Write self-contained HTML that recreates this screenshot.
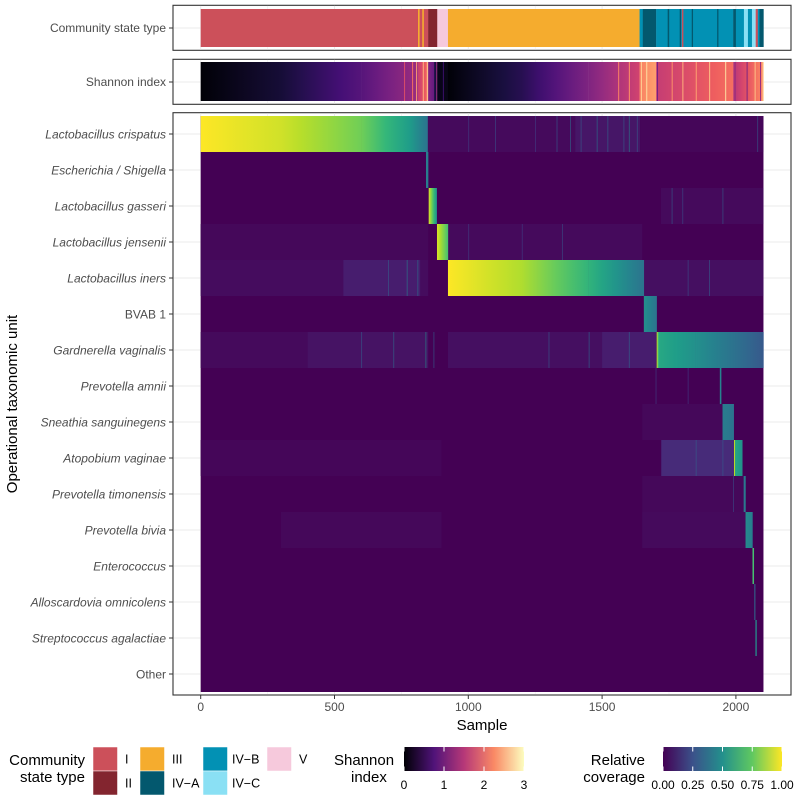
<!DOCTYPE html>
<html><head><meta charset="utf-8">
<style>
html,body{margin:0;padding:0;background:#fff;}
svg{display:block;font-family:"Liberation Sans",Arial,sans-serif;}
</style></head>
<body>
<svg id="chart" width="800" height="801" viewBox="0 0 800 801" xmlns="http://www.w3.org/2000/svg">
<defs id="defs"></defs>
<rect width="800" height="801" fill="#fff"/>
<g id="panels"></g>
<g id="marks"></g>
<g id="axes"></g>
<g id="legend"></g>
</svg>
<script>
// ---------- data ----------
const otuNames = ["Lactobacillus crispatus","Escherichia / Shigella","Lactobacillus gasseri","Lactobacillus jensenii","Lactobacillus iners","BVAB 1","Gardnerella vaginalis","Prevotella amnii","Sneathia sanguinegens","Atopobium vaginae","Prevotella timonensis","Prevotella bivia","Enterococcus","Alloscardovia omnicolens","Streptococcus agalactiae","Other"];
const otuItalic = [1,1,1,1,1,0,1,1,1,1,1,1,1,1,1,0];
const xTicks = [0,500,1000,1500,2000];
const nSamples = 2103;
const cstTypes = ["I","II","III","IV\u2212A","IV\u2212B","IV\u2212C","V"];
const cstColors = ["#cc505a","#83252f","#f5ac2e","#03586e","#0291b4","#8ae0f4","#f6c9dc"];
// CST segments: [start, end, typeIndex]
const cstSegments = [[0,812,0],[812,818,2],[818,828,0],[828,834,2],[834,850,0],[850,884,1],[884,924,6],[924,1640,2],[1640,1652,4],[1652,1702,3],[1702,1990,4],[1745,1750,3],[1790,1794,3],[1798,1803,0],[1835,1839,3],[1930,1934,3],[1990,2000,3],[2000,2030,4],[2030,2045,5],[2045,2060,4],[2060,2068,5],[2068,2074,5],[2074,2082,0],[2082,2088,4],[2088,2103,3]];
// Shannon gradient segments: [start, end, vStart, vEnd]
const shannonSegments = [[0,300,0.02,0.3],[300,600,0.3,0.8],[600,812,0.8,1.3],[812,850,1.6,2.1],[850,872,1.1,0.9],[872,884,0.4,0.3],[884,924,0.12,0.1],[924,1200,0.02,0.45],[1200,1450,0.45,1.1],[1450,1640,1.1,1.7],[1640,1702,2.2,2.4],[1702,1990,1.6,2.1],[1990,2103,1.5,2.3]];
// Shannon streaks: [sample, value]
const shannonStreaks = [[760,1.8],[790,2.1],[805,2.4],[830,2.5],[845,2.7],[880,1.3],[905,0.6],[1560,2.2],[1600,2.3],[1645,2.7],[1665,2.8],[1705,1.0],[1760,2.3],[1800,2.5],[1850,2.4],[1900,2.6],[1960,2.8],[1995,1.2],[2040,1.1],[2070,2.6],[2090,1.3],[2100,2.8]];
// Main coverage gradient blocks: [row, start, end, vStart, vEnd]
const coverageBlocks = [[0,0,300,1.0,0.93],[0,300,600,0.93,0.78],[0,600,780,0.78,0.55],[0,780,848,0.55,0.38],[1,842,850,0.45,0.4],[2,852,882,0.95,0.5],[3,883,924,0.95,0.7],[4,924,1200,1.0,0.88],[4,1200,1450,0.88,0.65],[4,1450,1656,0.65,0.38],[5,1656,1704,0.5,0.38],[6,1704,1712,0.95,0.6],[6,1712,1850,0.6,0.5],[6,1850,2103,0.5,0.28],[7,1940,1945,0.45,0.45],[8,1950,1992,0.42,0.38],[9,1993,1997,0.9,0.9],[9,1997,2024,0.6,0.5],[10,2029,2036,0.4,0.4],[11,2036,2062,0.48,0.42],[12,2062,2067,0.7,0.7],[13,2069,2072,0.35,0.35],[14,2073,2077,0.5,0.5]];
// Background haze: [row, start, end, value]
const hazeBlocks = [[0,848,1642,0.025],[0,1400,1642,0.06],[0,1642,2103,0.015],[2,1720,2103,0.025],[3,0,850,0.02],[3,924,1650,0.025],[4,0,850,0.03],[4,533,820,0.08],[4,1656,2103,0.04],[6,0,850,0.025],[6,400,850,0.05],[6,924,1700,0.04],[6,1500,1704,0.08],[8,1650,1950,0.02],[9,1721,1993,0.12],[9,0,900,0.015],[10,1650,2030,0.02],[11,1650,2036,0.025],[11,300,900,0.02]];
// Distinct streaks: [row, sample, value]
const streaks = [[0,1000,0.2],[0,1100,0.25],[0,1250,0.2],[0,1330,0.3],[0,1380,0.35],[0,1420,0.3],[0,1480,0.4],[0,1520,0.35],[0,1580,0.3],[0,1600,0.45],[0,1630,0.3],[0,2080,0.3],[2,860,0.4],[2,1760,0.3],[2,1800,0.25],[2,1950,0.3],[3,1000,0.2],[3,1200,0.2],[3,1350,0.25],[4,700,0.3],[4,770,0.45],[4,810,0.4],[4,1820,0.25],[4,1900,0.3],[6,600,0.3],[6,720,0.35],[6,840,0.5],[6,870,0.3],[6,1300,0.3],[6,1450,0.35],[6,1600,0.35],[7,1700,0.2],[7,1820,0.2],[9,1850,0.3],[9,1950,0.3],[10,1990,0.25]];
</script>
<script>
const NS="http://www.w3.org/2000/svg";
const X0=200.7, PX=0.2676, ROW0=116, ROWH=36;
const xScale=s=>X0+s*PX;
const rowY=i=>ROW0+i*ROWH;
const vir=["#440154","#482878","#3e4989","#31688e","#26828e","#1f9e89","#35b779","#6ece58","#b5de2b","#fde725"];
const mag=["#000004","#180f3d","#440f76","#721f81","#9e2f7f","#cd4071","#f1605d","#fd9668","#feca8d","#fcfdbf"];
function hx(h){return [1,3,5].map(i=>parseInt(h.substr(i,2),16));}
function ramp(stops,t){t=Math.max(0,Math.min(1,t));const p=t*(stops.length-1),i=Math.min(Math.floor(p),stops.length-2),f=p-i;const a=hx(stops[i]),b=hx(stops[i+1]);return "rgb("+a.map((v,k)=>Math.round(v+(b[k]-v)*f)).join(",")+")";}
const viridis=v=>ramp(vir,v), magma=v=>ramp(mag,v/3);
function el(tag,attrs,parent){const e=document.createElementNS(NS,tag);for(const k in attrs)e.setAttribute(k,attrs[k]);if(parent)parent.appendChild(e);return e;}
const defs=document.getElementById('defs'),panels=document.getElementById('panels'),marks=document.getElementById('marks'),axes=document.getElementById('axes'),legend=document.getElementById('legend');
let gid=0;
function grad(f,v0,v1){const id="g"+(gid++);const g=el('linearGradient',{id:id,x1:0,x2:1,y1:0,y2:0},defs);for(let k=0;k<=4;k++){el('stop',{offset:k/4,'stop-color':f(v0+(v1-v0)*k/4)},g);}return "url(#"+id+")";}
// panels
const panelDefs=[[5.3,50.3,'cst-panel'],[59.3,104.3,'shannon-panel'],[112.7,695,'otu-panel']];
panelDefs.forEach(p=>{
  const r=el('rect',{x:173,y:p[0],width:618,height:p[1]-p[0],fill:'#fff',stroke:'#333',"stroke-width":1.1},panels);
  
  
  [0,250,500,750,1000,1250,1500,1750,2000,2250].forEach(t=>{const x=xScale(t);if(x<790)el('line',{x1:x,x2:x,y1:p[0]+0.6,y2:p[1]-0.6,stroke:'#ebebeb','stroke-width':t%500?0.5:1},panels);});
});
el('line',{x1:173.6,x2:790,y1:28,y2:28,stroke:'#ebebeb'},panels);
el('line',{x1:173.6,x2:790,y1:82,y2:82,stroke:'#ebebeb'},panels);
otuNames.forEach((n,i)=>el('line',{x1:173.6,x2:790,y1:rowY(i)+18,y2:rowY(i)+18,stroke:'#ebebeb'},panels));
// CST bar
cstSegments.forEach(s=>{
  const r=el('rect',{x:xScale(s[0]),y:9,width:(s[1]-s[0])*PX+0.2,height:38,fill:cstColors[s[2]]},marks);
  
  
});
// Shannon
shannonSegments.forEach(s=>{
  const r=el('rect',{x:xScale(s[0]),y:62,width:(s[1]-s[0])*PX+0.2,height:39,fill:grad(magma,s[2],s[3])},marks);
  
  
});
shannonStreaks.forEach(s=>{
  const r=el('rect',{x:xScale(s[0]),y:62,width:1,height:39,fill:magma(s[1])},marks);
  
  
});
// main heatmap background
const bg=el('rect',{x:xScale(0),y:ROW0,width:nSamples*PX,height:16*ROWH,fill:viridis(0)},marks);


hazeBlocks.forEach(h=>{
  const r=el('rect',{x:xScale(h[1]),y:rowY(h[0]),width:(h[2]-h[1])*PX,height:ROWH,fill:viridis(h[3])},marks);
  
  
});
streaks.forEach(s=>{
  const r=el('rect',{x:xScale(s[1]),y:rowY(s[0]),width:0.8,height:ROWH,fill:viridis(s[2]),opacity:0.7},marks);
  
  
});
coverageBlocks.forEach(b=>{
  const r=el('rect',{x:xScale(b[1]),y:rowY(b[0]),width:Math.max((b[2]-b[1])*PX,0.8)+0.2,height:ROWH,fill:grad(viridis,b[3],b[4])},marks);
  
  
});
// axes
function txt(x,y,s,attrs,parent,name){const t=el('text',Object.assign({x:x,y:y},attrs),parent);t.textContent=s;return t;}
txt(166,32,"Community state type",{'text-anchor':'end','font-size':12,fill:'#4d4d4d'},axes,'cst-panel-label');
el('line',{x1:169,x2:173,y1:28,y2:28,stroke:'#333'},axes);
txt(166,86,"Shannon index",{'text-anchor':'end','font-size':12,fill:'#4d4d4d'},axes,'shannon-panel-label');
el('line',{x1:169,x2:173,y1:82,y2:82,stroke:'#333'},axes);
otuNames.forEach((n,i)=>{
  const y=rowY(i)+18;
  txt(166,y+4.3,n,{'text-anchor':'end','font-size':12,fill:'#4d4d4d','font-style':otuItalic[i]?'italic':'normal'},axes,'y-tick-label');
  el('line',{x1:169,x2:173,y1:y,y2:y,stroke:'#333'},axes);
});
xTicks.forEach(t=>{
  const x=xScale(t);
  el('line',{x1:x,x2:x,y1:695,y2:699,stroke:'#333'},axes);
  txt(x,711,String(t),{'text-anchor':'middle','font-size':12,fill:'#4d4d4d'},axes,'x-tick-label');
});
txt(482,730,"Sample",{'text-anchor':'middle','font-size':15,fill:'#000'},axes,'x-axis-title');
txt(0,0,"Operational taxonomic unit",{'text-anchor':'middle','font-size':15,fill:'#000',transform:'translate(17,404) rotate(-90)'},axes,'y-axis-title');
// legend
txt(85,765,"Community",{'text-anchor':'end','font-size':15},legend,'cst-legend-title');
txt(85,782,"state type",{'text-anchor':'end','font-size':15},legend,'cst-legend-title');
const cstLegendPos=[[93,747,125],[93,771,125],[140,747,172],[140,771,172],[203,747,232],[203,771,232],[267,747,299]];
cstTypes.forEach((c,i)=>{
  const p=cstLegendPos[i];
  const r=el('rect',{x:p[0],y:p[1],width:24.5,height:24,fill:cstColors[i],stroke:'#fff','stroke-width':0.5},legend);
  
  
  txt(p[2],p[1]+16.5,c,{'font-size':12.5},legend,'cst-legend-label');
});
txt(334,765,"Shannon",{'font-size':15},legend,'shannon-legend-title');
txt(351,782,"index",{'font-size':15},legend,'shannon-legend-title');
const sb=el('rect',{x:404,y:747,width:120,height:24,fill:grad(magma,0,3)},legend);


[0,1,2,3].forEach(v=>{const x=404+v*40;el('line',{x1:x,x2:x,y1:747,y2:751.5,stroke:'#fff'},legend);el('line',{x1:x,x2:x,y1:766.5,y2:771,stroke:'#fff'},legend);txt(x,789,String(v),{'text-anchor':'middle','font-size':12},legend,'shannon-legend-tick');});
txt(645,765,"Relative",{'text-anchor':'end','font-size':15},legend,'coverage-legend-title');
txt(645,782,"coverage",{'text-anchor':'end','font-size':15},legend,'coverage-legend-title');
const cb=el('rect',{x:663,y:747,width:119,height:24,fill:grad(viridis,0,1)},legend);


["0.00","0.25","0.50","0.75","1.00"].forEach((l,k)=>{const x=663+k*119/4;el('line',{x1:x,x2:x,y1:747,y2:751.5,stroke:'#fff'},legend);el('line',{x1:x,x2:x,y1:766.5,y2:771,stroke:'#fff'},legend);txt(x,789,l,{'text-anchor':'middle','font-size':12},legend,'coverage-legend-tick');});
</script>
</body></html>
